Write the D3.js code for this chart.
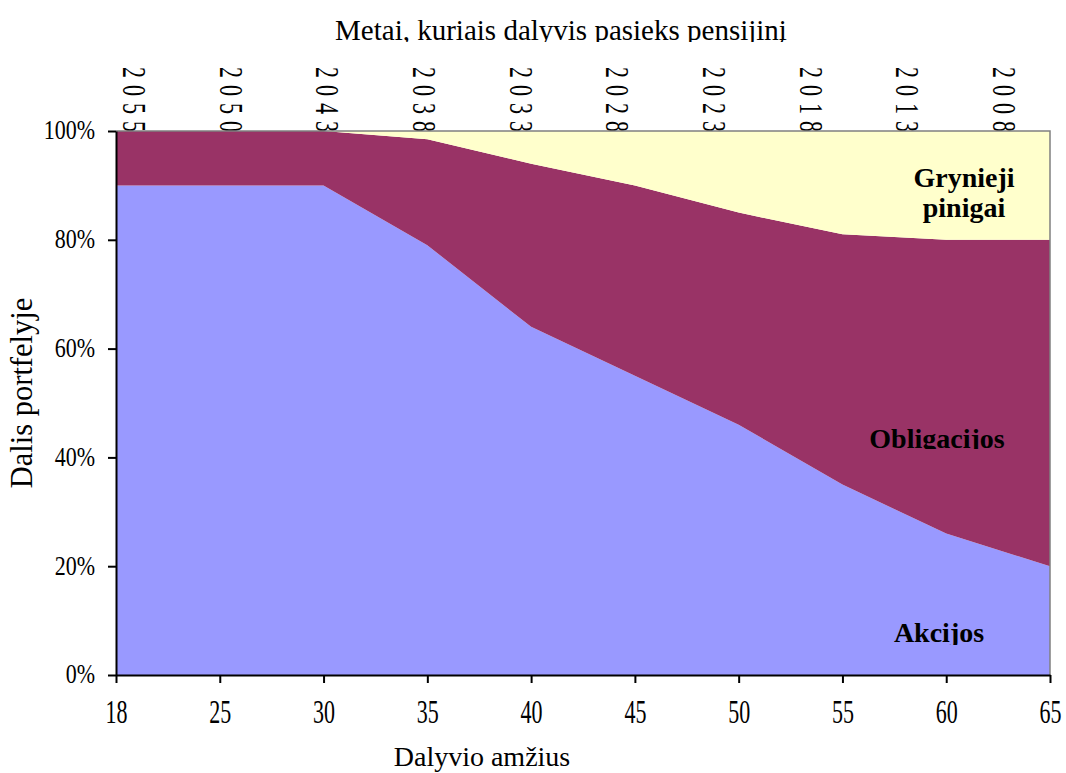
<!DOCTYPE html>
<html lang="lt">
<head>
<meta charset="utf-8">
<script src="https://cdn.jsdelivr.net/npm/d3@7"></script>
<style>
  html, body { margin: 0; padding: 0; background: #ffffff; }
  svg { display: block; font-family: "Liberation Serif", "Times New Roman", serif; }
</style>
</head>
<body>
<svg id="chart" width="1066" height="773"></svg>
<script>
// Participant age (bottom axis) and matching retirement year (top axis)
const ages = [18, 25, 30, 35, 40, 45, 50, 55, 60, 65];
const retireYears = ["2055", "2050", "2043", "2038", "2033", "2028", "2023", "2018", "2013", "2008"];

// Portfolio shares, percent
const akcijos     = [90, 90, 90, 79, 64, 55, 46, 35, 26, 20];
const obligacijos = [10, 10, 10, 19.5, 30, 35, 39, 46, 54, 60];
const grynieji    = [0, 0, 0, 1.5, 6, 10, 15, 19, 20, 20];

const seriesKeys = ["Akcijos", "Obligacijos", "Grynieji pinigai"];
const seriesColors = ["#9999FF", "#993366", "#FFFFCC"];
const yTicks = [0, 20, 40, 60, 80, 100];

const rows = ages.map((a, i) => ({
  age: a,
  "Akcijos": akcijos[i],
  "Obligacijos": obligacijos[i],
  "Grynieji pinigai": grynieji[i]
}));

const svg = d3.select("#chart");
const plot = { left: 116, right: 1050, top: 131, bottom: 675 };

const x = d3.scalePoint().domain(ages).range([plot.left, plot.right]);
const xTop = d3.scalePoint().domain(retireYears).range([plot.left + 18, plot.right - 46]);
const y = d3.scaleLinear().domain([0, 100]).range([plot.bottom, plot.top]);

const defs = svg.append("defs");
function clipAbove(id, yMax) {
  defs.append("clipPath").attr("id", id)
    .append("rect").attr("x", 0).attr("y", 0).attr("width", 1066).attr("height", yMax);
  return `url(#${id})`;
}

// Title
svg.append("text")
  .attr("x", 561).attr("y", 40)
  .attr("text-anchor", "middle")
  .attr("font-size", 29)
  .attr("clip-path", clipAbove("clip-title", 42))
  .text("Metai, kuriais dalyvis pasieks pensijinį");

// Retirement years, vertical, drawn under the plot area
svg.append("g").selectAll("g")
  .data(retireYears)
  .join("g")
  .attr("transform", d => `translate(${xTop(d) - 11},67) rotate(90) scale(1,1.5)`)
  .append("text")
  .attr("x", 0).attr("y", 0)
  .attr("font-size", 22)
  .attr("letter-spacing", 7)
  .text(d => d);

// Stacked areas
const stacked = d3.stack().keys(seriesKeys)(rows);
const area = d3.area()
  .x(d => x(d.data.age))
  .y0(d => y(d[0]))
  .y1(d => y(d[1]));

svg.append("g").selectAll("path")
  .data(stacked)
  .join("path")
  .attr("d", area)
  .attr("fill", (d, i) => seriesColors[i]);

// Plot frame (top and right)
svg.append("path")
  .attr("d", `M${plot.left},${plot.top}H${plot.right}V${plot.bottom}`)
  .attr("fill", "none")
  .attr("stroke", "#808080")
  .attr("stroke-width", 1.5);

// Y axis
const yAxis = svg.append("g")
  .attr("transform", `translate(${plot.left},0)`)
  .call(d3.axisLeft(y).tickValues(yTicks).tickSize(8).tickSizeOuter(0).tickPadding(13).tickFormat(d => d + "%"));
yAxis.select(".domain").attr("stroke", "#000").attr("stroke-width", 2);
yAxis.selectAll(".tick line").attr("stroke", "#000").attr("stroke-width", 2);
yAxis.selectAll(".tick text")
  .attr("font-family", "Liberation Serif, serif")
  .attr("font-size", 22)
  .attr("fill", "#000")
  .attr("y", 0)
  .attr("dy", "0.3em")
  .attr("transform", "scale(1,1.2)");

// X axis
const xAxis = svg.append("g")
  .attr("transform", `translate(0,${plot.bottom})`)
  .call(d3.axisBottom(x).tickSize(8).tickSizeOuter(0).tickPadding(0));
xAxis.select(".domain").attr("stroke", "#000").attr("stroke-width", 2);
xAxis.selectAll(".tick line").attr("stroke", "#000").attr("stroke-width", 2);
xAxis.selectAll(".tick text")
  .attr("font-family", "Liberation Serif, serif")
  .attr("font-size", 22)
  .attr("fill", "#000")
  .attr("dy", null)
  .attr("y", 31)
  .attr("transform", "scale(1,1.55)");

// Axis titles
svg.append("text")
  .attr("x", 482).attr("y", 766)
  .attr("text-anchor", "middle")
  .attr("font-size", 28)
  .text("Dalyvio amžius");

svg.append("text")
  .attr("transform", "translate(32,393) rotate(-90)")
  .attr("text-anchor", "middle")
  .attr("font-size", 30.5)
  .text("Dalis portfelyje");

// Series labels
const lab = svg.append("g").attr("font-weight", "bold").attr("font-size", 28).attr("text-anchor", "middle");
const cashLabel = lab.append("text");
cashLabel.append("tspan").attr("x", 964).attr("y", 187).text("Grynieji");
cashLabel.append("tspan").attr("x", 964).attr("y", 217).text("pinigai");
lab.append("text").attr("x", 937).attr("y", 448)
  .attr("clip-path", clipAbove("clip-bonds", 449))
  .text("Obligacijos");
lab.append("text").attr("x", 939).attr("y", 642)
  .attr("clip-path", clipAbove("clip-stocks", 645))
  .text("Akcijos");
</script>
</body>
</html>
